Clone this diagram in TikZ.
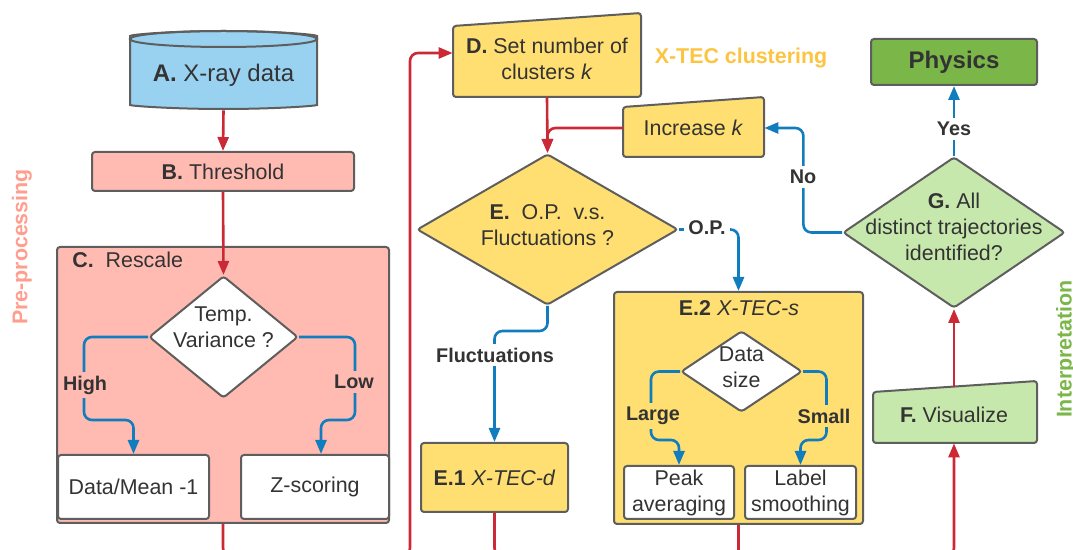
\documentclass[tikz,border=0pt]{standalone}
\usepackage{fontspec}
\setmainfont{Liberation Sans}
\usetikzlibrary{shapes.geometric,arrows.meta}
\definecolor{xblue}{RGB}{153,209,240}
\definecolor{salmon}{RGB}{255,187,177}
\definecolor{xyellow}{RGB}{255,223,113}
\definecolor{lgreen}{RGB}{199,232,172}
\definecolor{dgreen}{RGB}{122,182,72}
\definecolor{lnred}{RGB}{204,41,54}
\definecolor{lnblue}{RGB}{17,124,190}
\definecolor{edge}{RGB}{94,94,94}
\definecolor{txt}{RGB}{51,51,51}
\definecolor{xorange}{RGB}{252,196,64}
\definecolor{prepink}{RGB}{255,158,142}

\begin{document}
\begin{tikzpicture}[x=0.5pt, y=-0.5pt,
		every node/.style={text=txt, font=\fontsize{10.7}{13}\selectfont, inner sep=0pt},
		box/.style={draw=edge, line width=1pt, rounded corners=1.5pt, align=center},
		decide/.style={draw=edge, line width=1pt, diamond, rounded corners=1.5pt},
		slant/.style={draw=edge, line width=1pt, rounded corners=1.5pt},
		words/.style={align=center},
		lbl/.style={fill=white, inner sep=2pt, font=\fontsize{9.9}{11}\selectfont\bfseries},
		redln/.style={draw=lnred, line width=1.3pt, rounded corners=4pt},
		blueln/.style={draw=lnblue, line width=1.3pt, rounded corners=4pt},
		arr/.style={-{Triangle[length=7pt,width=5.5pt]}},
		sidetitle/.style={rotate=90, font=\fontsize{10.7}{13}\selectfont\bfseries}]
		\useasboundingbox (0,0) rectangle (1073,550);
		
		% pre-processing
		\filldraw[slant, fill=xblue] (130,39) -- (130,102) arc[start angle=180, end angle=0, x radius=93.5, y radius=7] -- (317,39) arc[start angle=0, end angle=-180, x radius=93.5, y radius=8] -- cycle;
		\draw[slant] (223.5,39) ellipse[x radius=93.5, y radius=8];
		\node[minimum width=93.5pt, minimum height=34.5pt] (A) at (223.5,75.5) {\fontsize{12}{14}\selectfont\textbf{A.} X-ray data};
		\node[box, fill=salmon, minimum width=131pt, minimum height=19.5pt] (B) at (223,171.5) {\textbf{B.} Threshold};
		\node[box, fill=salmon, minimum width=166pt, minimum height=138pt] (C) at (223,385) {};
		\node[anchor=west] (Ct) at (72,260) {\textbf{C.}\ \ Rescale};
		\node[decide, fill=white, minimum width=74.5pt, minimum height=61pt] (T) at (223.5,337) {};
		\node[words] (Tt) at (223.5,327) {Temp.\\Variance ?};
		\node[box, fill=white, minimum width=75.5pt, minimum height=32pt] (DM) at (133.5,487) {Data/Mean -1};
		\node[box, fill=white, minimum width=74pt, minimum height=32pt] (ZS) at (315,487) {Z-scoring};
		\draw[redln, arr] (A.south) -- (B.north);
		\draw[redln, arr] (B.south) -- (T.north);
		\draw[blueln, arr] (T.west) -| ++(-64,83) -| (DM.north);
		\draw[blueln, arr] (T.east) -| ++(56,83) -| ([xshift=3pt]ZS.north);
		\node[lbl, fill=salmon] (hi) at (85,385) {High};
		\node[lbl, fill=salmon] (lo) at (354,382) {Low};
		\node[sidetitle, text=prepink] (pre) at (22,247) {Pre-processing};
		
		% clustering
		\filldraw[slant, fill=xyellow] (453,26) -- (641,13) -- (641,97) -- (453,97) -- cycle;
		\node[words, minimum width=94pt, minimum height=38pt] (D) at (547,59) {\textbf{D.} Set number of\\clusters \textit{k}};
		\node[font=\fontsize{10.7}{13}\selectfont\bfseries, text=xorange] (xtec) at (741,58) {X-TEC clustering};
		\filldraw[slant, fill=xyellow] (623,107) -- (764,97) -- (764,157) -- (623,157) -- cycle;
		\node[minimum width=70.5pt, minimum height=29pt] (inc) at (693.5,128) {Increase \textit{k}};
		\node[decide, fill=xyellow, minimum width=130.5pt, minimum height=75.5pt] (E) at (547.5,229.5) {};
		\node[words] (Et) at (547.5,225) {\textbf{E.}\ \ O.P.\ \ v.s.\\Fluctuations ?};
		\node[box, fill=xyellow, minimum width=73.5pt, minimum height=34.5pt] (E1) at (494.5,477.5) {\textbf{E.1} \textit{X-TEC-d}};
		\node[box, fill=xyellow, minimum width=124.5pt, minimum height=116pt] (E2) at (738.5,408) {};
		\node (E2t) at (739,308.5) {\textbf{E.2} \textit{X-TEC-s}};
		\node[decide, fill=white, minimum width=60.5pt, minimum height=40.5pt] (DS) at (741.5,371.5) {};
		\node[words] (DSt) at (741.5,367) {Data\\size};
		\node[box, fill=white, minimum width=55pt, minimum height=26.5pt] (PA) at (679,492.5) {Peak\\averaging};
		\node[box, fill=white, minimum width=55.5pt, minimum height=26.5pt] (LS) at (800.5,492.5) {Label\\smoothing};
		\draw[redln, arr] (C.south) -- (223,556) -- (410,556) |- ([yshift=3pt]D.west);
		\draw[redln, arr] (D.south) -- (E.north);
		\draw[redln, arr] (inc.west) -| (E.north);
		\draw[blueln, arr] (E.east) -| (E2.north);
		\node[lbl] (op) at (707,228) {O.P.};
		\draw[blueln, arr] (E.south) -- ++(0,25) -| (E1.north);
		\node[lbl] (fl) at (495,355) {Fluctuations};
		\draw[blueln, arr] (DS.west) -| ++(-29,68.5) -| (PA.north);
		\draw[blueln, arr] (DS.east) -| ++(23.5,68.5) -| (LS.north);
		\node[lbl, fill=xyellow] (lg) at (653,416) {Large};
		\node[lbl, fill=xyellow] (sm) at (824,416) {Small};
		
		% interpretation
		\filldraw[slant, fill=lgreen] (873,392) -- (1037,381) -- (1037,443) -- (873,443) -- cycle;
		\node[minimum width=82pt, minimum height=28pt] (F) at (954,415) {\textbf{F.} Visualize};
		\node[decide, fill=lgreen, minimum width=111pt, minimum height=75.5pt] (G) at (954,232.5) {};
		\node[words] (Gt) at (954,226.5) {\textbf{G.} All\\distinct trajectories\\identified?};
		\node[box, fill=dgreen, minimum width=83pt, minimum height=23pt] (phys) at (954,62) {\fontsize{12}{14}\selectfont\bfseries Physics};
		\draw[redln, arr] (E1.south) -- (494.5,556) -| (F.south);
		\draw[redln] (E2.south) -- (738.5,560);
		\draw[redln, arr] (F.north) -- (G.south);
		\draw[blueln, arr] (G.north) -- (phys.south);
		\node[lbl] (yes) at (954,129) {Yes};
		\draw[blueln, arr] (G.west) -| ([xshift=19.5pt]inc.east) -- (inc.east);
		\node[lbl] (no) at (803,177) {No};
		\node[sidetitle, text=dgreen] (interp) at (1066,349) {Interpretation};
	\end{tikzpicture}
\end{document}
